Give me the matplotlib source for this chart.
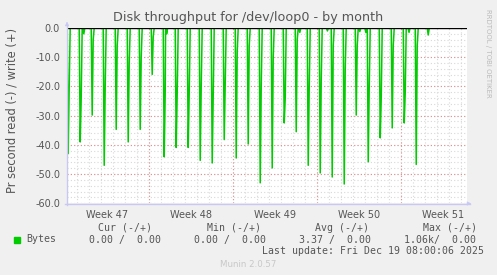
import numpy as np
import matplotlib
matplotlib.use("Agg")
import matplotlib.pyplot as plt

# data, x in days from left edge of the plot
spike_day = [0.1, 1.1, 2.1, 3.1, 4.1, 5.1, 6.1, 7.1, 8.1, 9.1,
             10.1, 11.1, 12.1, 13.1, 14.1, 15.1, 16.1, 17.1, 18.1, 19.1,
             20.1, 21.1, 22.1, 23.1, 24.1, 25.1, 26.1, 27.1, 28.1, 29.1]
spike_depth = [-43.0, -39.0, -29.8, -47.0, -34.7, -39.0, -34.7, -15.9, -44.1, -40.9,
               -40.9, -45.3, -46.2, -38.2, -44.5, -39.7, -53.0, -47.9, -32.5, -35.5,
               -47.0, -49.6, -51.0, -53.4, -29.8, -45.8, -37.6, -34.2, -32.5, -46.7]
# sample right after each spike (the lighter slanted part)
spike_after = [-20.0, -24.0, -4.0, -20.0, -6.0, -12.0, -10.0, -3.0, -22.0, -22.0,
               -22.0, -20.0, -22.0, -20.0, -8.0, -6.0, -20.0, -10.0, -24.0, -4.0,
               -20.0, -18.0, -6.0, -14.0, -6.0, -20.0, -24.0, -6.0, -22.0, -6.0]
blip_day = [1.4, 8.3, 19.4, 21.7, 24.4, 24.9, 28.5, 30.1]
blip_val = [-2.0, -2.0, -1.5, -1.0, -1.2, -1.5, -1.5, -2.4]

week_pos = [3.33, 10.33, 17.33, 24.33, 31.33]
week_lab = ["Week 47", "Week 48", "Week 49", "Week 50", "Week 51"]
xmax = 33.33

step = 1 / 12.0
pts = [(0.0, 0.0), (xmax, 0.0)]
for d, v, a in zip(spike_day, spike_depth, spike_after):
    pts += [(d - step, 0.0), (d, v), (d + step, a), (d + 2 * step, 0.0)]
for d, v in zip(blip_day, blip_val):
    pts += [(d - step, 0.0), (d, v), (d + step, 0.0)]
pts.sort()
tx = [p[0] for p in pts]
ty = [p[1] for p in pts]

plt.rcParams['axes.unicode_minus'] = False
W, H = 497, 275
fig = plt.figure(figsize=(W / 100, H / 100), dpi=100, facecolor='#f0f0f0')

def px(x, y):
    return x / W, 1 - y / H

ax = fig.add_axes([67 / W, 1 - 203.3 / H, 400 / W, 175.3 / H])
ax.set_facecolor('white')
ax.set_xlim(0, xmax)
ax.set_ylim(-60, 0)

# grid
for d in np.arange(0.83, xmax, 1.0):
    ax.axvline(d, color='#d8d8d8', lw=0.8, ls=(0, (1, 2)), zorder=1)
for d in [6.83, 13.83, 20.83, 27.83]:
    ax.axvline(d, color='#e09090', lw=0.8, ls=(0, (1, 2)), zorder=1)
for v in np.arange(-58, 0, 2):
    ax.axhline(v, color='#d8d8d8', lw=0.8, ls=(0, (1, 2)), zorder=1)
for v in [-10, -20, -30, -40, -50, -60]:
    ax.axhline(v, color='#e09090', lw=0.8, ls=(0, (1, 2)), zorder=1)

ax.plot(tx, ty, color='#00cc00', lw=1.1, zorder=3)
ax.axhline(0, color='black', lw=1.0, zorder=4)

for s in ax.spines.values():
    s.set_visible(False)
ax.set_xticks(week_pos)
ax.set_xticklabels(week_lab)
ax.set_yticks([0, -10, -20, -30, -40, -50, -60])
ax.set_yticklabels(['0.0', '-10.0', '-20.0', '-30.0', '-40.0', '-50.0', '-60.0'])
ax.tick_params(length=0, labelsize=7, colors='#555555', pad=5)

# axis lines with arrows
fig.add_artist(plt.Line2D([67 / W, 67 / W], [1 - 205 / H, 1 - 24 / H], color='#c8c8f0', lw=1))
fig.add_artist(plt.Line2D([65 / W, 470 / W], [1 - 203.5 / H, 1 - 203.5 / H], color='#c8c8f0', lw=1))
ax.annotate('', xy=px(67, 19), xytext=px(67, 26), xycoords='figure fraction',
            arrowprops=dict(arrowstyle='-|>', color='#c8c8f8', lw=0.5, mutation_scale=6))
ax.annotate('', xy=px(474, 203.5), xytext=px(466, 203.5), xycoords='figure fraction',
            arrowprops=dict(arrowstyle='-|>', color='#c8c8f8', lw=0.5, mutation_scale=6))

fig.text(*px(248, 18), "Disk throughput for /dev/loop0 - by month", ha='center', va='center',
         fontsize=9.2, color='#555555')
fig.text(*px(12, 110), "Pr second read (-) / write (+)", rotation=90, ha='center', va='center',
         fontsize=8.3, color='#555555')
fig.text(*px(488, 53), "RRDTOOL / TOBI OETIKER", rotation=270, ha='center', va='center',
         fontsize=5, color='#bbbbbb')

mono = dict(family='DejaVu Sans Mono', fontsize=7.15, color='#555555', va='center')
fig.text(*px(98, 228), "Cur (-/+)", **mono)
fig.text(*px(207, 228), "Min (-/+)", **mono)
fig.text(*px(315, 228), "Avg (-/+)", **mono)
fig.text(*px(423, 228), "Max (-/+)", **mono)
fig.add_artist(plt.Rectangle(px(14, 242.5), 5.5 / W, 5.5 / H, color='#00cc00'))
fig.text(*px(26.7, 239.5), "Bytes", **mono)
fig.text(*px(89.3, 239.5), "0.00 /  0.00", **mono)
fig.text(*px(194.3, 239.5), "0.00 /  0.00", **mono)
fig.text(*px(299, 239.5), "3.37 /  0.00", **mono)
fig.text(*px(404.3, 239.5), "1.06k/  0.00", **mono)
fig.text(*px(261.7, 251.5), "Last update: Fri Dec 19 08:00:06 2025", **mono)
fig.text(*px(248, 264.5), "Munin 2.0.57", ha='center', va='center', fontsize=6.2, color='#c8c8c8')

fig.savefig('out.png', dpi=100, facecolor=fig.get_facecolor())
